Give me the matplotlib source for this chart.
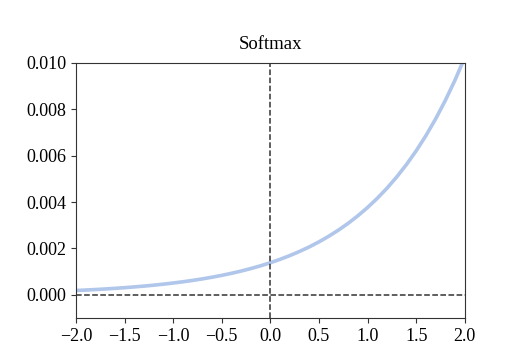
import numpy as np
import matplotlib
matplotlib.use("Agg")
from matplotlib import pyplot as plt

# values
x = [-2.0, -1.9, -1.8, -1.7, -1.6, -1.5, -1.4, -1.3, -1.2, -1.1,
     -1.0, -0.9, -0.8, -0.7, -0.6, -0.5, -0.4, -0.3, -0.2, -0.1,
     0.0, 0.1, 0.2, 0.3, 0.4, 0.5, 0.6, 0.7, 0.8, 0.9,
     1.0, 1.1, 1.2, 1.3, 1.4, 1.5, 1.6, 1.7, 1.8, 1.9, 2.0]
y = [0.000187, 0.000207, 0.000229, 0.000253, 0.000280, 0.000309, 0.000342,
     0.000377, 0.000417, 0.000461, 0.000510, 0.000563, 0.000622, 0.000688,
     0.000760, 0.000840, 0.000928, 0.001026, 0.001134, 0.001253, 0.001385,
     0.001531, 0.001692, 0.001870, 0.002066, 0.002284, 0.002524, 0.002789,
     0.003082, 0.003407, 0.003765, 0.004161, 0.004598, 0.005082, 0.005617,
     0.006207, 0.006860, 0.007582, 0.008379, 0.009260, 0.010234]

plt.rcParams['font.family'] = ['Liberation Serif', 'DejaVu Serif']

fig = plt.figure(figsize=(5.13, 3.53), dpi=100)
ax = fig.add_axes([0.148, 0.099, 0.758, 0.723])

ax.plot(x, y, color='#b0c6ea', lw=2.6, solid_joinstyle='round')
ax.axhline(0, color='#333333', ls='--', lw=1.1)
ax.axvline(0, color='#333333', ls='--', lw=1.1)

ax.set_xlim(-2, 2)
ax.set_ylim(-0.001, 0.010)
ax.set_xticks(np.arange(-2, 2.01, 0.5))
ax.set_yticks(np.arange(0, 0.0101, 0.002))
ax.set_yticklabels(['0.000', '0.002', '0.004', '0.006', '0.008', '0.010'])
ax.set_xticklabels(['\u22122.0', '\u22121.5', '\u22121.0', '\u22120.5',
                    '0.0', '0.5', '1.0', '1.5', '2.0'])
ax.tick_params(labelsize=13, color='#333333')
for s in ax.spines.values():
    s.set_color('#333333')
ax.set_title('Softmax', fontsize=13.5, pad=10)

fig.savefig('out.png', dpi=100)
